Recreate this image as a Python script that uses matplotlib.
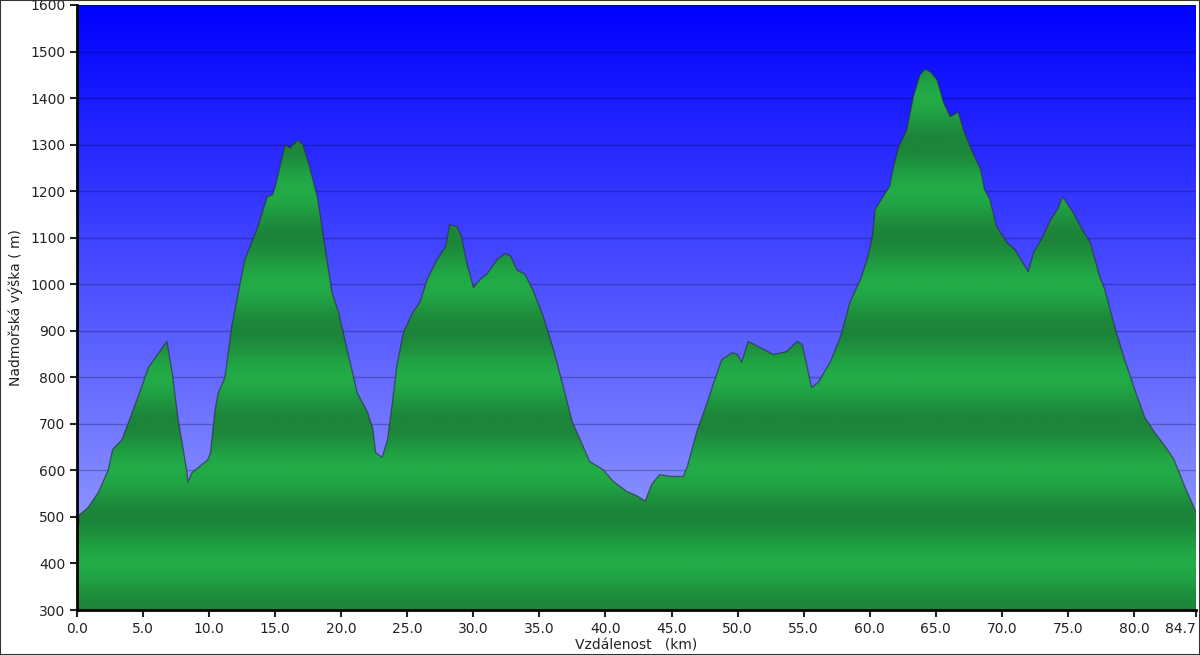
import numpy as np
import matplotlib
matplotlib.use("Agg")
import matplotlib.pyplot as plt
from matplotlib.colors import LinearSegmentedColormap
from matplotlib.patches import Rectangle

# elevation profile
dist_km = [0.0, 0.1, 0.2, 0.8, 1.6, 2.35, 2.7, 3.4, 3.9, 4.9,
           5.4, 6.1, 6.8, 7.2, 7.65, 8.3, 8.4, 8.7, 9.9, 10.1,
           10.45, 10.7, 11.2, 11.7, 12.3, 12.7, 13.6, 14.4, 14.8, 15.0,
           15.75, 16.1, 16.7, 17.1, 17.6, 18.2, 18.6, 19.3, 19.8, 20.5,
           21.2, 22.0, 22.4, 22.6, 23.1, 23.5, 23.9, 24.2, 24.7, 25.4,
           25.95, 26.5, 27.25, 27.9, 28.2, 28.75, 29.1, 29.5, 30.0, 30.5,
           31.0, 31.8, 32.4, 32.8, 33.3, 33.9, 34.5, 35.3, 36.0, 36.8,
           37.5, 38.3, 38.8, 39.8, 40.6, 41.6, 42.4, 43.0, 43.5, 44.1,
           44.9, 45.9, 46.2, 46.9, 47.7, 48.2, 48.8, 49.6, 50.0, 50.3,
           50.8, 51.7, 52.7, 53.7, 54.5, 54.9, 55.3, 55.6, 56.1, 57.0,
           57.8, 58.5, 59.3, 59.8, 60.2, 60.4, 61.0, 61.5, 61.8, 62.2,
           62.8, 63.3, 63.8, 64.2, 64.6, 65.1, 65.6, 66.1, 66.7, 67.1,
           67.6, 68.4, 68.7, 69.1, 69.6, 70.4, 71.0, 71.6, 72.0, 72.4,
           73.1, 73.7, 74.2, 74.6, 75.4, 76.1, 76.7, 77.4, 77.8, 78.6,
           79.3, 80.1, 80.8, 81.6, 82.4, 83.0, 83.5, 84.0, 84.4, 84.7]

elev_m = [492, 480, 505, 519, 552, 600, 645, 666, 703, 780,
          821, 849, 877, 810, 710, 600, 575, 595, 623, 638,
          730, 767, 800, 908, 995, 1053, 1117, 1188, 1192, 1210,
          1300, 1293, 1310, 1300, 1253, 1186, 1111, 982, 939, 853,
          767, 724, 688, 638, 628, 666, 752, 823, 896, 939,
          961, 1010, 1053, 1081, 1128, 1124, 1102, 1046, 993, 1010,
          1021, 1053, 1066, 1061, 1031, 1021, 988, 930, 866, 780,
          703, 652, 619, 602, 576, 555, 545, 534, 570, 591,
          587, 587, 609, 682, 746, 789, 838, 853, 849, 832,
          877, 864, 849, 855, 877, 870, 817, 778, 789, 832,
          888, 961, 1010, 1053, 1102, 1160, 1188, 1210, 1253, 1296,
          1332, 1403, 1450, 1462, 1456, 1439, 1390, 1360, 1370, 1332,
          1296, 1246, 1203, 1182, 1124, 1089, 1074, 1046, 1027, 1068,
          1102, 1139, 1160, 1188, 1154, 1117, 1089, 1017, 988, 903,
          838, 770, 715, 680, 650, 625, 590, 555, 530, 510]

x_ticks = [0.0, 5.0, 10.0, 15.0, 20.0, 25.0, 30.0, 35.0, 40.0,
           45.0, 50.0, 55.0, 60.0, 65.0, 70.0, 75.0, 80.0, 84.7]
y_ticks = list(range(300, 1601, 100))

x_max = 84.7
y_min, y_max = 300, 1600

fig = plt.figure(figsize=(12, 6.55), dpi=100)
ax = fig.add_axes([0.0642, 0.0687, 0.9325, 0.9237])

# sky gradient (light at bottom, pure blue at top)
sky = LinearSegmentedColormap.from_list("sky", ["#a4acff", "#0000ff"])
grad = np.linspace(0, 1, 256).reshape(-1, 1)
ax.imshow(grad, cmap=sky, aspect="auto", origin="lower",
          extent=[0, x_max, y_min, y_max], zorder=0)

# green fill with horizontal bands
poly = ax.fill_between(dist_km, elev_m, y_min, color="none", zorder=1)
levels = np.linspace(y_min, y_max, 1300).reshape(-1, 1)
shade = 0.5 + 0.5 * np.cos(2 * np.pi * (levels - 500) / 200.0)
greens = LinearSegmentedColormap.from_list("greens", ["#22ab47", "#1c853a"])
im = ax.imshow(shade, cmap=greens, aspect="auto", origin="lower",
               extent=[0, x_max, y_min, y_max], zorder=2)
im.set_clip_path(poly.get_paths()[0], transform=ax.transData)
ax.plot(dist_km, elev_m, color="#2a2a40", lw=1.0, alpha=0.6, zorder=3)

ax.set_xlim(0, x_max)
ax.set_ylim(y_min, y_max)
ax.set_xticks(x_ticks)
ax.set_xticklabels([f"{v:.1f}" for v in x_ticks])
ax.get_xticklabels()[-1].set_ha("right")
ax.set_yticks(y_ticks)
ax.grid(axis="y", color="black", alpha=0.25, lw=1)
for gl in ax.get_ygridlines():
    gl.set_zorder(4)

for side in ["top", "right"]:
    ax.spines[side].set_visible(False)
for side in ["left", "bottom"]:
    ax.spines[side].set_linewidth(2)
    ax.spines[side].set_zorder(5)
ax.tick_params(direction="out", length=5, width=1.5, labelsize=10,
               colors="#222222")

ax.set_xlabel("Vzdálenost   (km)", fontsize=10, labelpad=2, color="#222222")
ax.set_ylabel("Nadmořská výška ( m)", fontsize=10, labelpad=5, color="#222222")

fig.patches.append(Rectangle((0, 0), 1, 1, transform=fig.transFigure,
                             fill=False, edgecolor="#333333", lw=1.5))

fig.savefig("out.png", dpi=100)
